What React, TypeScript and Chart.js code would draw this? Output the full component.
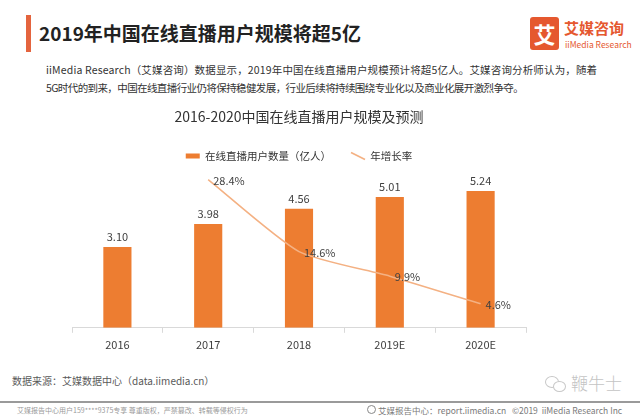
import React, { useEffect, useRef } from "react";
import { Chart, registerables } from "chart.js";

Chart.register(...registerables);

const categories = ["2016", "2017", "2018", "2019E", "2020E"];
const users = [3.1, 3.98, 4.56, 5.01, 5.24];
const userLabels = ["3.10", "3.98", "4.56", "5.01", "5.24"];
const growth = [null, 28.4, 14.6, 9.9, 4.6];
const growthLabels = ["", "28.4%", "14.6%", "9.9%", "4.6%"];
const seriesNames = ["在线直播用户数量（亿人）", "年增长率"];

const FONT = "'Noto Sans CJK SC', 'Noto Sans', sans-serif";
const BAR = "#ED7D31";
const LINE = "#F4B183";
const TXT = "#404040";

const labelPlugin = {
  id: "valueLabels",
  afterDatasetsDraw(chart: any) {
    const ctx = chart.ctx;
    ctx.save();
    ctx.font = `11px ${FONT}`;
    ctx.fillStyle = TXT;
    const barMeta = chart.getDatasetMeta(0);
    barMeta.data.forEach((el: any, i: number) => {
      ctx.textAlign = "center";
      ctx.textBaseline = "bottom";
      ctx.fillText(userLabels[i], el.x, el.y - 5);
    });
    const lineMeta = chart.getDatasetMeta(1);
    lineMeta.data.forEach((el: any, i: number) => {
      if (growth[i] == null) return;
      ctx.textAlign = "left";
      ctx.textBaseline = "middle";
      ctx.fillText(growthLabels[i], el.x + 5, el.y + 1);
    });
    ctx.restore();
  },
};

function ChartBox() {
  const ref = useRef<HTMLCanvasElement>(null);
  useEffect(() => {
    if (!ref.current) return;
    const chart = new Chart(ref.current, {
      type: "bar",
      data: {
        labels: categories,
        datasets: [
          {
            type: "bar",
            label: seriesNames[0],
            data: users,
            backgroundColor: BAR,
            borderWidth: 0,
            barPercentage: 0.31,
            categoryPercentage: 1,
            yAxisID: "y",
            order: 1,
            pointStyle: "rect",
          } as any,
          {
            type: "line",
            label: seriesNames[1],
            data: growth,
            borderColor: LINE,
            backgroundColor: LINE,
            borderWidth: 1.6,
            pointRadius: 0,
            pointStyle: "line",
            pointRotation: 90,
            pointBorderWidth: 1.6,
            tension: 0.2,
            yAxisID: "y1",
            order: 0,
          } as any,
        ],
      },
      options: {
        animation: false,
        responsive: false,
        maintainAspectRatio: false,
        layout: { padding: { left: 72, right: 114, top: 0, bottom: 14 } },
        plugins: {
          tooltip: { enabled: false },
          title: {
            display: true,
            text: "2016-2020中国在线直播用户规模及预测",
            color: "#333333",
            font: { family: FONT, size: 14, weight: "normal" },
            padding: { top: 8, bottom: 6 },
          },
          legend: {
            display: true,
            labels: {
              usePointStyle: true,
              pointStyleWidth: 14,
              boxHeight: 5,
              boxWidth: 14,
              padding: 20,
              color: "#333333",
              font: { family: FONT, size: 10.5 },
              sort: (a: any, b: any) => a.datasetIndex - b.datasetIndex,
            },
          },
        },
        scales: {
          x: {
            offset: true,
            grid: {
              offset: true,
              drawOnChartArea: false,
              drawTicks: true,
              tickLength: 5,
              color: "#d9d9d9",
            },
            border: { color: "#d9d9d9" },
            ticks: {
              color: TXT,
              font: { family: FONT, size: 11 },
              padding: 5,
            },
          },
          y: { display: false, min: 0, max: 6 },
          y1: { display: false, min: 0, max: 30, position: "right" },
        },
      } as any,
      plugins: [labelPlugin],
    });
    return () => chart.destroy();
  }, []);
  return <canvas ref={ref} width={640} height={270} style={{ width: 640, height: 270, display: "block" }} />;
}

const abs = (o: React.CSSProperties): React.CSSProperties => ({ position: "absolute", whiteSpace: "nowrap", ...o });

export default function App() {
  return (
    <div style={{ position: "fixed", left: 0, top: 0, width: 640, height: 416, background: "#fff", fontFamily: FONT, overflow: "hidden" }}>
      <div style={abs({ left: 26, top: 15, width: 5, height: 37, background: "#E4643E" })} />
      <div style={abs({ left: 39, top: 21, height: 24, lineHeight: "24px", fontSize: 19, fontWeight: 700, color: "#222" })}>
        2019年中国在线直播用户规模将超5亿
      </div>
      <div style={abs({ left: 530, top: 17, width: 29, height: 33, borderRadius: 3, background: "#E5582F", color: "#fff", fontSize: 22, fontWeight: 700, lineHeight: "33px", textAlign: "center" })}>艾</div>
      <div style={abs({ left: 564, top: 18, lineHeight: "20px", fontSize: 15, fontWeight: 700, color: "#E5582F" })}>艾媒咨询</div>
      <div style={abs({ left: 565, top: 38, lineHeight: "12px", fontSize: 8.5, color: "#E5582F" })}>iiMedia Research</div>
      <div style={abs({ left: 46, top: 63, lineHeight: "14px", fontSize: 10.5, letterSpacing: 0.15, color: "#333" })}>
        iiMedia Research（艾媒咨询）数据显示，2019年中国在线直播用户规模预计将超5亿人。艾媒咨询分析师认为，随着
      </div>
      <div style={abs({ left: 46, top: 81, lineHeight: "14px", fontSize: 10.5, letterSpacing: -0.6, color: "#333" })}>
        5G时代的到来，中国在线直播行业仍将保持稳健发展，行业后续将持续围绕专业化以及商业化展开激烈争夺。
      </div>
      <div style={abs({ left: 0, top: 100, width: 640, height: 270 })}>
        <ChartBox />
      </div>
      <div style={abs({ left: 12, top: 374, lineHeight: "14px", fontSize: 10, color: "#595959" })}>
        数据来源：艾媒数据中心（data.iimedia.cn）
      </div>
      <div style={abs({ left: 545, top: 376, width: 12, height: 10, border: "1px solid #c8c8c8", borderRadius: "50%" })} />
      <div style={abs({ left: 553, top: 381, width: 11, height: 9, border: "1px solid #c8c8c8", borderRadius: "50%", background: "#fff" })} />
      <div style={abs({ left: 571, top: 372, lineHeight: "22px", fontSize: 17, color: "#c4c4c4", fontWeight: 300 })}>鞭牛士</div>
      <div style={abs({ left: 0, top: 401, width: 640, height: 1.5, background: "#9a9a9a" })} />
      <div style={abs({ left: 17, top: 405, lineHeight: "10px", fontSize: 7, color: "#9a9a9a" })}>
        艾媒报告中心用户159****9375专享 尊重版权，严禁篡改、转载等侵权行为
      </div>
      <div style={abs({ left: 367, top: 405, width: 7, height: 7, border: "1px solid #888", borderRadius: "50%" })} />
      <div style={abs({ left: 378, top: 404, lineHeight: "12px", fontSize: 8.5, color: "#7a7a7a" })}>
        艾媒报告中心：report.iimedia.cn&nbsp;&nbsp;&nbsp;©2019&nbsp;&nbsp;iiMedia Research Inc
      </div>
    </div>
  );
}
